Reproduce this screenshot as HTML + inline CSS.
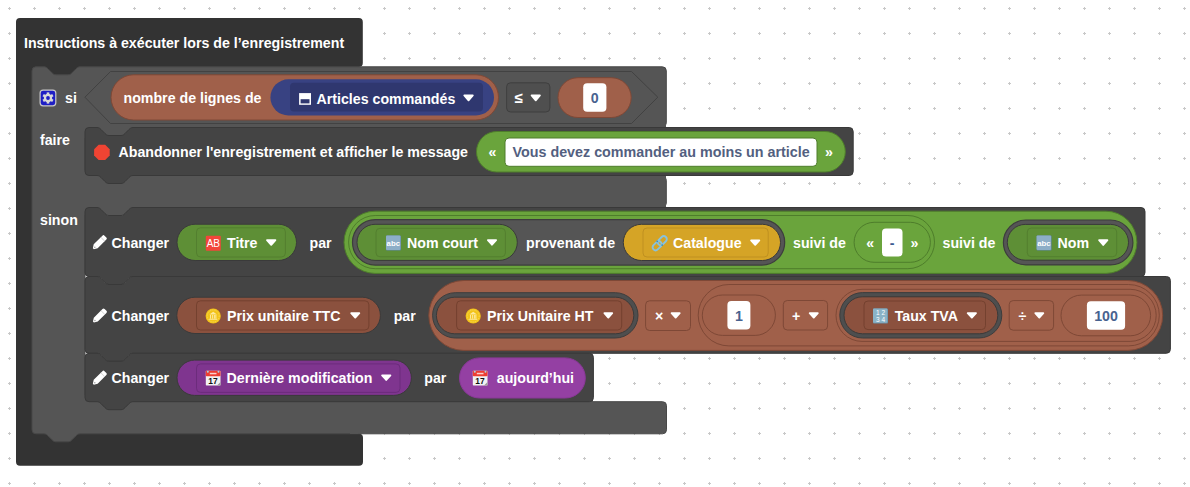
<!DOCTYPE html><html><head><meta charset="utf-8"><style>html,body{margin:0;padding:0;background:#fff;overflow:hidden}svg{display:block}text{font-family:"Liberation Sans",sans-serif;white-space:pre}</style></head><body>
<svg width="1190" height="487" viewBox="0 0 1190 487">
<defs><pattern id="g" x="8" y="7" width="25" height="25" patternUnits="userSpaceOnUse"><rect x="0" y="1" width="3" height="1" fill="#c8c8c8"/><rect x="1" y="0" width="1" height="3" fill="#c8c8c8"/></pattern></defs>
<rect width="1190" height="487" fill="#fff"/><rect width="1190" height="487" fill="url(#g)"/>
<path d="M16,22 a4,4 0 0 1 4,-4 H358.8 a4,4 0 0 1 4,4 V63 a4,4 0 0 1 -4,4 H40 V433.8 H359 a4,4 0 0 1 4,4 V461.7 a4,4 0 0 1 -4,4 H20 a4,4 0 0 1 -4,-4 Z" fill="#333333"/>
<rect x="40" y="60" width="44" height="16" fill="#333333"/>
<rect x="30" y="428" width="320" height="12" fill="#333333"/>
<text x="24" y="48" fill="#fff" font-size="14.2" font-weight="bold" text-anchor="start">Instructions à exécuter lors de l’enregistrement</text>
<path d="M32,70.8 a4,4 0 0 1 4,-4 H44 c2,0 3,1 4,2 l4,4 c1,1 2,2 4,2 h12 c2,0 3,-1 4,-2 l4,-4 c1,-1 2,-2 4,-2 H662.3 a4,4 0 0 1 4,4 V122.8 a4,4 0 0 1 -4,4 H133 c-2,0 -3,1 -4,2 l-4,4 c-1,1 -2,2 -4,2 h-12 c-2,0 -3,-1 -4,-2 l-4,-4 c-1,-1 -2,-2 -4,-2 H85 V176.3 H662.3 a4,4 0 0 1 4,4 V203.1 a4,4 0 0 1 -4,4 H133 c-2,0 -3,1 -4,2 l-4,4 c-1,1 -2,2 -4,2 h-12 c-2,0 -3,-1 -4,-2 l-4,-4 c-1,-1 -2,-2 -4,-2 H85 V401.7 H662.5 a4,4 0 0 1 4,4 V429.8 a4,4 0 0 1 -4,4 H80 c-2,0 -3,1 -4,2 l-4,4 c-1,1 -2,2 -4,2 h-12 c-2,0 -3,-1 -4,-2 l-4,-4 c-1,-1 -2,-2 -4,-2 H36 a4,4 0 0 1 -4,-4 Z" fill="#555555" stroke="#484848"/>
<rect x="80" y="124" width="586" height="14" fill="#555555"/><rect x="80" y="170" width="586" height="10" fill="#555555"/><rect x="80" y="203" width="586" height="12" fill="#555555"/><rect x="80" y="395" width="513" height="10" fill="#555555"/>
<rect x="40.1" y="90.1" width="15.70" height="15.70" rx="3" fill="#1f1fc4" stroke="#c9c9c9" stroke-width="1.2"/>
<g transform="translate(48,98)" fill="#d9d9d9"><rect x="-1.3" y="-5.6" width="2.6" height="3" transform="rotate(0)"/><rect x="-1.3" y="-5.6" width="2.6" height="3" transform="rotate(60)"/><rect x="-1.3" y="-5.6" width="2.6" height="3" transform="rotate(120)"/><rect x="-1.3" y="-5.6" width="2.6" height="3" transform="rotate(180)"/><rect x="-1.3" y="-5.6" width="2.6" height="3" transform="rotate(240)"/><rect x="-1.3" y="-5.6" width="2.6" height="3" transform="rotate(300)"/><circle r="4.2"/></g><circle cx="48" cy="98" r="1.9" fill="#1f1fc4"/>
<text x="65" y="103" fill="#fff" font-size="14.2" font-weight="bold" text-anchor="start">si</text>
<path d="M84.9,97.2 L110.5,71.5 H631.5 L657.8,97.2 L631.5,123.5 H110.5 Z" fill="#555555" stroke="#424242"/>
<rect x="111" y="74.8" width="387.50" height="45.20" rx="22.60" fill="#a0604a" stroke="#7e4836" stroke-width="1"/>
<text x="123.5" y="103" fill="#fff" font-size="14.2" font-weight="bold" text-anchor="start">nombre de lignes de</text>
<rect x="270.4" y="79.3" width="223.60" height="36.20" rx="18.10" fill="#384282" stroke="none" stroke-width="1"/>
<rect x="290" y="82.7" width="193.00" height="28.90" rx="4" fill="#2f376f" stroke="none" stroke-width="1"/>
<g fill="#fff"><rect x="299.1" y="93.1" width="11.9" height="11.7"/></g><rect x="300.6" y="99.2" width="8.9" height="4.2" fill="#2f376f"/>
<text x="316.5" y="104" fill="#fff" font-size="14.2" font-weight="bold" text-anchor="start">Articles commandés</text>
<path d="M464.28,95.50 H472.82 L468.55,100.31 Z" fill="#fff" stroke="#fff" stroke-width="1.8" stroke-linejoin="round"/>
<rect x="506.6" y="82.8" width="43.30" height="29.20" rx="4" fill="#4f4f4f" stroke="#3f3f3f" stroke-width="1"/>
<text x="514.6" y="103.2" fill="#fff" font-size="15" font-weight="bold" text-anchor="start">≤</text>
<path d="M531.58,95.50 H539.92 L535.75,100.31 Z" fill="#fff" stroke="#fff" stroke-width="1.8" stroke-linejoin="round"/>
<rect x="558" y="77.7" width="73.20" height="39.80" rx="19.90" fill="#a0604a" stroke="#7e4836" stroke-width="1"/>
<rect x="583.2" y="83.2" width="23.20" height="28.60" rx="4" fill="#fff" stroke="none" stroke-width="1"/>
<text x="594.8" y="102.6" fill="#48628f" font-size="14.2" font-weight="bold" text-anchor="middle">0</text>
<text x="40" y="145" fill="#fff" font-size="14.2" font-weight="bold" text-anchor="start">faire</text>
<path d="M85,131.5 a4,4 0 0 1 4,-4 H97 c2,0 3,1 4,2 l4,4 c1,1 2,2 4,2 h12 c2,0 3,-1 4,-2 l4,-4 c1,-1 2,-2 4,-2 H849.2 a4,4 0 0 1 4,4 V171.5 a4,4 0 0 1 -4,4 H133 c-2,0 -3,1 -4,2 l-4,4 c-1,1 -2,2 -4,2 h-12 c-2,0 -3,-1 -4,-2 l-4,-4 c-1,-1 -2,-2 -4,-2 H89 a4,4 0 0 1 -4,-4 Z" fill="#444444" stroke="#393939"/>
<path d="M98.6,144.8 H105.2 L109.7,149.3 V155.4 L105.2,159.9 H98.6 L94.1,155.4 V149.3 Z" fill="#f04433"/>
<text x="118.5" y="157" fill="#fff" font-size="14.2" font-weight="bold" text-anchor="start">Abandonner l'enregistrement et afficher le message</text>
<rect x="476.5" y="131.5" width="368.80" height="40.50" rx="20.25" fill="#6aa43c" stroke="#4e7d2b" stroke-width="1"/>
<text x="488.5" y="157" fill="#fff" font-size="14.2" font-weight="bold" text-anchor="start">«</text>
<rect x="505" y="138" width="312.00" height="28.30" rx="4" fill="#fff" stroke="#4e7d2b" stroke-width="1"/>
<text x="512.5" y="157" fill="#535f80" font-size="14.32" font-weight="bold" text-anchor="start">Vous devez commander au moins un article</text>
<text x="825" y="157" fill="#fff" font-size="14.2" font-weight="bold" text-anchor="start">»</text>
<text x="40" y="225" fill="#fff" font-size="14.2" font-weight="bold" text-anchor="start">sinon</text>
<path d="M85,211.5 a4,4 0 0 1 4,-4 H97 c2,0 3,1 4,2 l4,4 c1,1 2,2 4,2 h12 c2,0 3,-1 4,-2 l4,-4 c1,-1 2,-2 4,-2 H1141 a4,4 0 0 1 4,4 V272.5 a4,4 0 0 1 -4,4 H133 c-2,0 -3,1 -4,2 l-4,4 c-1,1 -2,2 -4,2 h-12 c-2,0 -3,-1 -4,-2 l-4,-4 c-1,-1 -2,-2 -4,-2 H89 a4,4 0 0 1 -4,-4 Z" fill="#444444" stroke="#393939"/>
<g transform="translate(99.5,242.5) rotate(-45)"><path d="M-5.4,-2.8 H6.9 a1.5,1.5 0 0 1 1.5,1.5 V1.3 a1.5,1.5 0 0 1 -1.5,1.5 H-5.4 L-8.7,0.7 V-0.7 Z" fill="#fff"/><rect x="4.3" y="-2.8" width="0.7" height="5.6" fill="#cfcfcf"/><circle cx="-6.6" cy="0" r="0.7" fill="#9a9a9a"/></g>
<text x="111.5" y="248" fill="#fff" font-size="14.2" font-weight="bold" text-anchor="start">Changer</text>
<rect x="177" y="224.2" width="119.50" height="36.30" rx="18.15" fill="#5e8f36" stroke="#3a3a3a" stroke-width="1"/>
<rect x="196.5" y="227.8" width="88.90" height="29.20" rx="4" fill="#5e8f36" stroke="#537f2f" stroke-width="1"/>
<rect x="205.8" y="235.7" width="15" height="15" rx="1" fill="#f2463a"/><text x="213.3" y="247.2" fill="#fff" font-size="10" font-weight="normal" text-anchor="middle">AB</text>
<text x="227" y="248" fill="#fff" font-size="14.2" font-weight="bold" text-anchor="start">Titre</text>
<path d="M266.98,240.10 H275.42 L271.20,244.91 Z" fill="#fff" stroke="#fff" stroke-width="1.8" stroke-linejoin="round"/>
<text x="309.5" y="248" fill="#fff" font-size="14.2" font-weight="bold" text-anchor="start">par</text>
<rect x="344" y="211.2" width="792.90" height="62.20" rx="31.10" fill="#6aa43c" stroke="#4e7d2b" stroke-width="1"/>
<rect x="348.6" y="215.5" width="585.90" height="53.20" rx="26.60" fill="#6aa43c" stroke="#4e7d2b" stroke-width="1"/>
<rect x="352.5" y="219.6" width="432.20" height="45.50" rx="22.75" fill="#555555" stroke="#3d3d3d" stroke-width="1.2"/>
<rect x="357" y="224.3" width="160.30" height="36.10" rx="18.05" fill="#5e8f36" stroke="#3a3a3a" stroke-width="1"/>
<rect x="376" y="228.3" width="129.40" height="28.50" rx="4" fill="#5e8f36" stroke="#537f2f" stroke-width="1"/>
<rect x="386" y="235.6" width="15" height="15" rx="1" fill="#5f87a6"/><rect x="386" y="235.6" width="14.4" height="14.3" rx="1" fill="#8daec7"/><text x="393.3" y="245.6" fill="#fff" font-size="7.8" font-weight="bold" text-anchor="middle">abc</text>
<text x="407" y="248" fill="#fff" font-size="14.2" font-weight="bold" text-anchor="start">Nom court</text>
<path d="M487.88,240.10 H496.12 L492.00,244.71 Z" fill="#fff" stroke="#fff" stroke-width="1.8" stroke-linejoin="round"/>
<text x="526" y="248" fill="#fff" font-size="14.2" font-weight="bold" text-anchor="start">provenant de</text>
<rect x="623.3" y="224.3" width="157.20" height="36.20" rx="18.10" fill="#d5a426" stroke="#3a3a3a" stroke-width="1"/>
<rect x="643" y="228" width="125.20" height="29.00" rx="4" fill="#d5a426" stroke="#bf9020" stroke-width="1"/>
<g transform="translate(659.7,243.2) rotate(-45)" fill="none" stroke="#88c2dd" stroke-width="1.9"><rect x="-8.8" y="-3" width="10.4" height="6" rx="3"/><rect x="-1.6" y="-3" width="10.4" height="6" rx="3"/></g><circle cx="657.2" cy="241.3" r="0.9" fill="#3f8db5"/><circle cx="662.2" cy="245.1" r="0.9" fill="#3f8db5"/>
<text x="673" y="248" fill="#fff" font-size="14.2" font-weight="bold" text-anchor="start">Catalogue</text>
<path d="M751.08,240.40 H759.32 L755.20,244.81 Z" fill="#fff" stroke="#fff" stroke-width="1.8" stroke-linejoin="round"/>
<text x="793" y="248" fill="#fff" font-size="14.2" font-weight="bold" text-anchor="start">suivi de</text>
<rect x="854.1" y="222.3" width="76.30" height="40.00" rx="20.00" fill="#6aa43c" stroke="#4e7d2b" stroke-width="1"/>
<text x="866.3" y="248" fill="#fff" font-size="14.2" font-weight="bold" text-anchor="start">«</text>
<rect x="882" y="228.5" width="20.50" height="28.00" rx="4" fill="#fff" stroke="none" stroke-width="1"/>
<text x="892.2" y="248.3" fill="#3b5c91" font-size="14.2" font-weight="bold" text-anchor="middle">-</text>
<text x="910.5" y="248" fill="#fff" font-size="14.2" font-weight="bold" text-anchor="start">»</text>
<text x="942.5" y="248" fill="#fff" font-size="14.2" font-weight="bold" text-anchor="start">suivi de</text>
<rect x="1003.4" y="220" width="129.50" height="44.90" rx="22.45" fill="#555555" stroke="#3d3d3d" stroke-width="1.2"/>
<rect x="1007.3" y="224.4" width="121.20" height="35.80" rx="17.90" fill="#5e8f36" stroke="#3a3a3a" stroke-width="1"/>
<rect x="1027.3" y="228" width="89.40" height="28.70" rx="4" fill="#5e8f36" stroke="#537f2f" stroke-width="1"/>
<rect x="1036.6" y="235.6" width="15" height="15" rx="1" fill="#5f87a6"/><rect x="1036.6" y="235.6" width="14.4" height="14.3" rx="1" fill="#8daec7"/><text x="1043.8999999999999" y="245.6" fill="#fff" font-size="7.8" font-weight="bold" text-anchor="middle">abc</text>
<text x="1057.5" y="248" fill="#fff" font-size="14.2" font-weight="bold" text-anchor="start">Nom</text>
<path d="M1099.08,240.20 H1107.42 L1103.25,245.01 Z" fill="#fff" stroke="#fff" stroke-width="1.8" stroke-linejoin="round"/>
<path d="M85,280.5 a4,4 0 0 1 4,-4 H97 c2,0 3,1 4,2 l4,4 c1,1 2,2 4,2 h12 c2,0 3,-1 4,-2 l4,-4 c1,-1 2,-2 4,-2 H1166.4 a4,4 0 0 1 4,4 V349.3 a4,4 0 0 1 -4,4 H133 c-2,0 -3,1 -4,2 l-4,4 c-1,1 -2,2 -4,2 h-12 c-2,0 -3,-1 -4,-2 l-4,-4 c-1,-1 -2,-2 -4,-2 H89 a4,4 0 0 1 -4,-4 Z" fill="#444444" stroke="#393939"/>
<g transform="translate(99.6,315.8) rotate(-45)"><path d="M-5.4,-2.8 H6.9 a1.5,1.5 0 0 1 1.5,1.5 V1.3 a1.5,1.5 0 0 1 -1.5,1.5 H-5.4 L-8.7,0.7 V-0.7 Z" fill="#fff"/><rect x="4.3" y="-2.8" width="0.7" height="5.6" fill="#cfcfcf"/><circle cx="-6.6" cy="0" r="0.7" fill="#9a9a9a"/></g>
<text x="111.5" y="321" fill="#fff" font-size="14.2" font-weight="bold" text-anchor="start">Changer</text>
<rect x="176.8" y="297.2" width="203.60" height="36.30" rx="18.15" fill="#8b513e" stroke="#3a3a3a" stroke-width="1"/>
<rect x="196.5" y="300.8" width="172.40" height="29.20" rx="4" fill="#8b513e" stroke="#74412f" stroke-width="1"/>
<circle cx="213.2" cy="316" r="7.6" fill="#f3c318"/><circle cx="213.2" cy="316" r="6" fill="none" stroke="#fbe37a" stroke-width="0.7" stroke-dasharray="1 1"/><path d="M209.39999999999998,314.4 L213.2,311.8 L217.0,314.4 Z M210.0,315 h1.1 v3.4 h-1.1 Z M212.1,315 h1.1 v3.4 h-1.1 Z M214.1,315 h1.1 v3.4 h-1.1 Z M215.5,315 h0.9 v3.4 h-0.9 Z M209.2,318.8 h8 v0.9 h-8 Z" fill="#fde9a0"/>
<text x="227" y="321" fill="#fff" font-size="14.2" font-weight="bold" text-anchor="start">Prix unitaire TTC</text>
<path d="M351.18,313.20 H359.32 L355.25,317.61 Z" fill="#fff" stroke="#fff" stroke-width="1.8" stroke-linejoin="round"/>
<text x="393.7" y="321" fill="#fff" font-size="14.2" font-weight="bold" text-anchor="start">par</text>
<rect x="428.8" y="280.5" width="733.90" height="69.90" rx="34.95" fill="#a0604a" stroke="#7e4836" stroke-width="1"/>
<rect x="432.6" y="292.7" width="205.40" height="45.30" rx="22.65" fill="#4e4e4e" stroke="#3d3d3d" stroke-width="1"/>
<rect x="436.4" y="297.2" width="197.40" height="36.60" rx="18.30" fill="#8b513e" stroke="#3a3a3a" stroke-width="1"/>
<rect x="456.6" y="300.8" width="165.10" height="29.20" rx="4" fill="#8b513e" stroke="#74412f" stroke-width="1"/>
<circle cx="473.2" cy="316" r="7.6" fill="#f3c318"/><circle cx="473.2" cy="316" r="6" fill="none" stroke="#fbe37a" stroke-width="0.7" stroke-dasharray="1 1"/><path d="M469.4,314.4 L473.2,311.8 L477.0,314.4 Z M470.0,315 h1.1 v3.4 h-1.1 Z M472.09999999999997,315 h1.1 v3.4 h-1.1 Z M474.09999999999997,315 h1.1 v3.4 h-1.1 Z M475.5,315 h0.9 v3.4 h-0.9 Z M469.2,318.8 h8 v0.9 h-8 Z" fill="#fde9a0"/>
<text x="487" y="321" fill="#fff" font-size="14.2" font-weight="bold" text-anchor="start">Prix Unitaire HT</text>
<path d="M604.38,313.20 H612.22 L608.30,317.61 Z" fill="#fff" stroke="#fff" stroke-width="1.8" stroke-linejoin="round"/>
<rect x="645.6" y="300.8" width="44.90" height="29.70" rx="4" fill="#a0604a" stroke="#7e4836" stroke-width="1"/>
<text x="655" y="321" fill="#fff" font-size="14.2" font-weight="bold" text-anchor="start">×</text>
<path d="M671.58,313.20 H679.72 L675.65,317.61 Z" fill="#fff" stroke="#fff" stroke-width="1.8" stroke-linejoin="round"/>
<rect x="698.2" y="284.5" width="461.10" height="61.40" rx="30.70" fill="#a0604a" stroke="#7e4836" stroke-width="1"/>
<rect x="702.3" y="295" width="73.10" height="40.40" rx="20.20" fill="#a0604a" stroke="#7e4836" stroke-width="1"/>
<rect x="727.4" y="301" width="23.00" height="28.50" rx="4" fill="#fff" stroke="none" stroke-width="1"/>
<text x="738.9" y="320.8" fill="#48628f" font-size="14.2" font-weight="bold" text-anchor="middle">1</text>
<rect x="783.3" y="300.5" width="44.30" height="29.50" rx="4" fill="#a0604a" stroke="#7e4836" stroke-width="1"/>
<text x="792" y="321" fill="#fff" font-size="14.2" font-weight="bold" text-anchor="start">+</text>
<path d="M809.68,313.20 H817.82 L813.75,317.61 Z" fill="#fff" stroke="#fff" stroke-width="1.8" stroke-linejoin="round"/>
<rect x="836" y="289.3" width="320.20" height="52.10" rx="26.05" fill="#a0604a" stroke="#7e4836" stroke-width="1"/>
<rect x="839.8" y="292.6" width="162.00" height="45.40" rx="22.70" fill="#4e4e4e" stroke="#3d3d3d" stroke-width="1"/>
<rect x="844" y="296.8" width="153.80" height="37.00" rx="18.50" fill="#8b513e" stroke="#3a3a3a" stroke-width="1"/>
<rect x="864" y="301" width="121.50" height="28.60" rx="4" fill="#8b513e" stroke="#74412f" stroke-width="1"/>
<rect x="873" y="308.5" width="15" height="15" rx="1" fill="#6a92a8"/><rect x="873" y="308.5" width="14.3" height="14.2" rx="1" fill="#8ab2c6"/><text x="880.5" y="315.1" fill="#fff" font-size="6.5" font-weight="normal" text-anchor="middle">1 2</text><text x="880.5" y="321.9" fill="#fff" font-size="6.5" font-weight="normal" text-anchor="middle">3 4</text>
<text x="894.7" y="321" fill="#fff" font-size="14.2" font-weight="bold" text-anchor="start">Taux TVA</text>
<path d="M967.68,313.20 H976.02 L971.85,317.61 Z" fill="#fff" stroke="#fff" stroke-width="1.8" stroke-linejoin="round"/>
<rect x="1009.2" y="300.6" width="44.40" height="29.60" rx="4" fill="#a0604a" stroke="#7e4836" stroke-width="1"/>
<text x="1018.5" y="321" fill="#fff" font-size="14.2" font-weight="bold" text-anchor="start">÷</text>
<path d="M1035.28,313.20 H1043.32 L1039.30,317.61 Z" fill="#fff" stroke="#fff" stroke-width="1.8" stroke-linejoin="round"/>
<rect x="1061" y="295.1" width="89.60" height="40.70" rx="20.35" fill="#a0604a" stroke="#7e4836" stroke-width="1"/>
<rect x="1086.9" y="301.2" width="38.20" height="28.50" rx="4" fill="#fff" stroke="none" stroke-width="1"/>
<text x="1106" y="320.8" fill="#48628f" font-size="14.2" font-weight="bold" text-anchor="middle">100</text>
<path d="M85,357.3 a4,4 0 0 1 4,-4 H97 c2,0 3,1 4,2 l4,4 c1,1 2,2 4,2 h12 c2,0 3,-1 4,-2 l4,-4 c1,-1 2,-2 4,-2 H589.4 a4,4 0 0 1 4,4 V397.7 a4,4 0 0 1 -4,4 H133 c-2,0 -3,1 -4,2 l-4,4 c-1,1 -2,2 -4,2 h-12 c-2,0 -3,-1 -4,-2 l-4,-4 c-1,-1 -2,-2 -4,-2 H89 a4,4 0 0 1 -4,-4 Z" fill="#444444" stroke="#393939"/>
<g transform="translate(99.5,378) rotate(-45)"><path d="M-5.4,-2.8 H6.9 a1.5,1.5 0 0 1 1.5,1.5 V1.3 a1.5,1.5 0 0 1 -1.5,1.5 H-5.4 L-8.7,0.7 V-0.7 Z" fill="#fff"/><rect x="4.3" y="-2.8" width="0.7" height="5.6" fill="#cfcfcf"/><circle cx="-6.6" cy="0" r="0.7" fill="#9a9a9a"/></g>
<text x="111.5" y="383" fill="#fff" font-size="14.2" font-weight="bold" text-anchor="start">Changer</text>
<rect x="177" y="360.1" width="234.40" height="35.30" rx="17.65" fill="#7f358f" stroke="#3a3a3a" stroke-width="1"/>
<rect x="196.5" y="363.9" width="203.50" height="28.50" rx="4" fill="#7f358f" stroke="#6c2c7c" stroke-width="1"/>
<rect x="205.8" y="370.8" width="14.7" height="14.7" rx="0.8" fill="#f2f2f2"/><path d="M217.0,385.5 L220.5,382.0 V385.5 Z" fill="#9a9a9a"/><rect x="205.8" y="370.8" width="14.7" height="5.4" rx="0.8" fill="#ee3d31"/><rect x="209.8" y="372.8" width="6.7" height="1.5" fill="#f9d0cc"/><circle cx="207.8" cy="371.8" r="1" fill="#a8d0e0"/><circle cx="218.5" cy="371.8" r="1" fill="#a8d0e0"/><text x="212.9" y="383.8" fill="#111" font-size="8.4" font-weight="bold" text-anchor="middle">17</text>
<text x="226.6" y="383" fill="#fff" font-size="14.2" font-weight="bold" text-anchor="start">Dernière modification</text>
<path d="M382.08,375.40 H390.42 L386.25,380.01 Z" fill="#fff" stroke="#fff" stroke-width="1.8" stroke-linejoin="round"/>
<text x="424.3" y="383" fill="#fff" font-size="14.2" font-weight="bold" text-anchor="start">par</text>
<rect x="459.5" y="357.9" width="125.80" height="40.10" rx="20.05" fill="#9440a3" stroke="#8a3898" stroke-width="1"/>
<rect x="472.8" y="370.8" width="14.7" height="14.7" rx="0.8" fill="#f2f2f2"/><path d="M484.0,385.5 L487.5,382.0 V385.5 Z" fill="#9a9a9a"/><rect x="472.8" y="370.8" width="14.7" height="5.4" rx="0.8" fill="#ee3d31"/><rect x="476.8" y="372.8" width="6.7" height="1.5" fill="#f9d0cc"/><circle cx="474.8" cy="371.8" r="1" fill="#a8d0e0"/><circle cx="485.5" cy="371.8" r="1" fill="#a8d0e0"/><text x="479.90000000000003" y="383.8" fill="#111" font-size="8.4" font-weight="bold" text-anchor="middle">17</text>
<text x="496.8" y="383" fill="#fff" font-size="14.2" font-weight="bold" text-anchor="start">aujourd’hui</text>
</svg></body></html>
